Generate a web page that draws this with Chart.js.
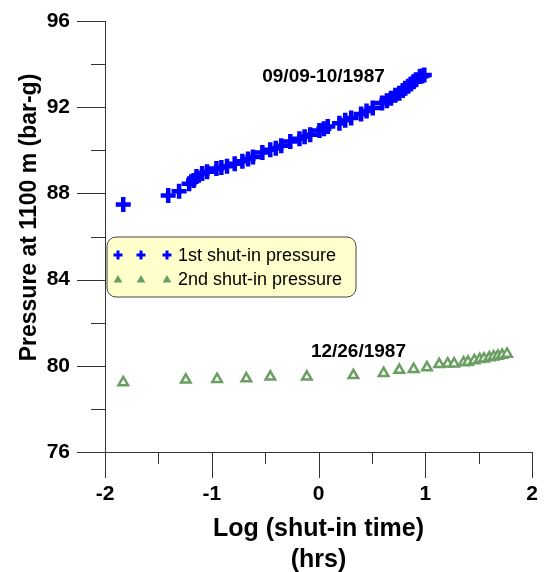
<!DOCTYPE html>
<html>
<head>
<meta charset="utf-8">
<script src="https://cdn.jsdelivr.net/npm/chart.js@4/dist/chart.umd.min.js"></script>
<style>
  html, body { margin: 0; padding: 0; background: #ffffff; }
  #wrap { width: 544px; height: 572px; }
</style>
</head>
<body>
<div id="wrap"><canvas id="c" width="544" height="572"></canvas></div>
<script>
// First shut-in (09/09-10/1987): log10 of shut-in time (hrs) and pressure (bar-g)
const logTime1 = [-1.829, -1.408, -1.306, -1.212, -1.170, -1.143, -1.090, -1.044, -0.956, -0.910,
  -0.857, -0.785, -0.713, -0.660, -0.614, -0.526, -0.452, -0.400, -0.349, -0.264,
  -0.178, -0.130, -0.078, 0.009, 0.050, 0.087, 0.196, 0.250, 0.306, 0.399,
  0.450, 0.508, 0.595, 0.640, 0.679, 0.720, 0.757, 0.790, 0.813, 0.840,
  0.866, 0.890, 0.913, 0.950, 0.970, 0.991];
const pressure1 = [87.48, 87.90, 88.10, 88.45, 88.60, 88.79, 88.92, 89.00, 89.15, 89.20,
  89.26, 89.38, 89.49, 89.60, 89.69, 89.90, 90.03, 90.10, 90.21, 90.41,
  90.54, 90.63, 90.72, 90.92, 91.00, 91.11, 91.26, 91.40, 91.50, 91.69,
  91.82, 91.96, 92.19, 92.30, 92.42, 92.55, 92.65, 92.78, 92.88, 92.97,
  93.08, 93.18, 93.27, 93.42, 93.45, 93.50];

// Second shut-in (12/26/1987)
const logTime2 = [-1.829, -1.243, -0.950, -0.676, -0.451, -0.109, 0.327, 0.610, 0.757, 0.891,
  1.016, 1.131, 1.210, 1.270, 1.360, 1.400, 1.460, 1.510, 1.550, 1.600, 1.640, 1.680, 1.720, 1.766];
const pressure2 = [79.23, 79.35, 79.38, 79.41, 79.49, 79.49, 79.56, 79.66, 79.80, 79.84,
  79.92, 80.07, 80.10, 80.10, 80.15, 80.18, 80.25, 80.30, 80.33, 80.38, 80.42, 80.46, 80.50, 80.55];

const seriesNames = ['1st shut-in pressure', '2nd shut-in pressure'];
const dateLabels = ['09/09-10/1987', '12/26/1987'];
const yTitle = 'Pressure at 1100 m (bar-g)';
const xTitleLines = ['Log (shut-in time)', '(hrs)'];

const BLUE = '#0000ff';
const GREEN = '#6b9e63';
const AXIS = '#333333';
const FONT = "'Liberation Sans', Arial, sans-serif";

const toPoints = (xs, ys) => xs.map((x, i) => ({ x: x, y: ys[i] }));

function drawCross(ctx, x, y, r, w, color) {
  ctx.save();
  ctx.strokeStyle = color;
  ctx.lineWidth = w;
  ctx.beginPath();
  ctx.moveTo(x - r, y); ctx.lineTo(x + r, y);
  ctx.moveTo(x, y - r); ctx.lineTo(x, y + r);
  ctx.stroke();
  ctx.restore();
}
function drawTri(ctx, x, y, r, color) {
  ctx.save();
  ctx.fillStyle = color;
  ctx.beginPath();
  ctx.moveTo(x, y - r);
  ctx.lineTo(x + r * 0.866, y + r * 0.5);
  ctx.lineTo(x - r * 0.866, y + r * 0.5);
  ctx.closePath();
  ctx.fill();
  ctx.restore();
}

// Axis lines, outward tick marks, titles, date labels and the legend box
const decorations = {
  id: 'decorations',
  afterDatasetsDraw(chart) {
    const { ctx, chartArea: a, scales: { x, y } } = chart;
    ctx.save();
    ctx.strokeStyle = AXIS;
    ctx.lineWidth = 1;
    ctx.beginPath();
    ctx.moveTo(a.left + 0.5, a.top);
    ctx.lineTo(a.left + 0.5, a.bottom);
    ctx.moveTo(a.left, a.bottom + 0.5);
    ctx.lineTo(a.right, a.bottom + 0.5);
    for (let v = y.min; v <= y.max + 1e-9; v += 2) {
      const py = Math.round(y.getPixelForValue(v)) + 0.5;
      const len = (Math.round(v) % 4 === 0) ? 28 : 14;
      ctx.moveTo(a.left - len, py);
      ctx.lineTo(a.left, py);
    }
    for (let v = x.min; v <= x.max + 1e-9; v += 0.5) {
      const px = Math.round(x.getPixelForValue(v)) + 0.5;
      const len = (Math.abs(v - Math.round(v)) < 1e-9) ? 26 : 12;
      ctx.moveTo(px, a.bottom);
      ctx.lineTo(px, a.bottom + len);
    }
    ctx.stroke();

    // axis titles
    ctx.fillStyle = '#000';
    ctx.textAlign = 'center';
    ctx.textBaseline = 'middle';
    ctx.font = 'bold 23px ' + FONT;
    ctx.save();
    ctx.translate(30, (a.top + a.bottom) / 2 - 19);
    ctx.rotate(-Math.PI / 2);
    ctx.fillText(yTitle, 0, 0);
    ctx.restore();
    const cx = (a.left + a.right) / 2;
    ctx.font = 'bold 25px ' + FONT;
    ctx.fillText(xTitleLines[0], cx, a.bottom + 77);
    ctx.fillText(xTitleLines[1], cx, a.bottom + 108);

    // date labels anchored in data coordinates
    ctx.font = 'bold 19px ' + FONT;
    ctx.fillText(dateLabels[0], x.getPixelForValue(0.047), y.getPixelForValue(93.4));
    ctx.fillText(dateLabels[1], x.getPixelForValue(0.374), y.getPixelForValue(80.64));

    // legend
    const lx = 107, ly = 237, lw = 249, lh = 60, rr = 9;
    ctx.beginPath();
    ctx.moveTo(lx + rr, ly);
    ctx.arcTo(lx + lw, ly, lx + lw, ly + lh, rr);
    ctx.arcTo(lx + lw, ly + lh, lx, ly + lh, rr);
    ctx.arcTo(lx, ly + lh, lx, ly, rr);
    ctx.arcTo(lx, ly, lx + lw, ly, rr);
    ctx.closePath();
    ctx.fillStyle = '#ffffcc';
    ctx.fill();
    ctx.strokeStyle = '#444';
    ctx.lineWidth = 1;
    ctx.stroke();
    const mx = [118, 141, 167];
    mx.forEach(m => drawCross(ctx, m, 255, 4.5, 3, BLUE));
    mx.forEach(m => drawTri(ctx, m, 280, 5, GREEN));
    ctx.fillStyle = '#000';
    ctx.font = '18px ' + FONT;
    ctx.textAlign = 'left';
    ctx.fillText(seriesNames[0], 178, 256);
    ctx.fillText(seriesNames[1], 178, 280);
    ctx.restore();
  }
};

new Chart(document.getElementById('c'), {
  type: 'scatter',
  data: {
    datasets: [
      {
        label: seriesNames[0],
        data: toPoints(logTime1, pressure1),
        pointStyle: 'cross',
        pointRadius: 7.5,
        pointBorderWidth: 4.5,
        borderColor: BLUE,
        backgroundColor: BLUE,
        pointHoverRadius: 7.5
      },
      {
        label: seriesNames[1],
        data: toPoints(logTime2, pressure2),
        pointStyle: 'triangle',
        pointRadius: 5.5,
        pointBorderWidth: 2.5,
        borderColor: GREEN,
        backgroundColor: '#ffffff',
        pointHoverRadius: 5.5
      }
    ]
  },
  options: {
    responsive: false,
    animation: false,
    events: [],
    layout: { padding: { top: 21, right: 11, left: 0, bottom: 0 } },
    plugins: { legend: { display: false }, tooltip: { enabled: false } },
    scales: {
      x: {
        type: 'linear',
        min: -2, max: 2,
        grid: { display: false, drawTicks: false },
        border: { display: false },
        ticks: {
          stepSize: 1,
          padding: 30,
          color: '#000',
          font: { family: FONT, size: 21, weight: 'bold' },
          maxRotation: 0
        },
        afterFit(scale) {
          scale.height = 120;
          scale.paddingLeft = 0;
          scale.paddingRight = 0;
        }
      },
      y: {
        type: 'linear',
        min: 76, max: 96,
        grid: { display: false, drawTicks: false },
        border: { display: false },
        ticks: {
          stepSize: 4,
          padding: 35,
          color: '#000',
          font: { family: FONT, size: 21, weight: 'bold' }
        },
        afterFit(scale) {
          scale.width = 105;
          scale.paddingTop = 0;
          scale.paddingBottom = 0;
        }
      }
    }
  },
  plugins: [decorations]
});
</script>
</body>
</html>
